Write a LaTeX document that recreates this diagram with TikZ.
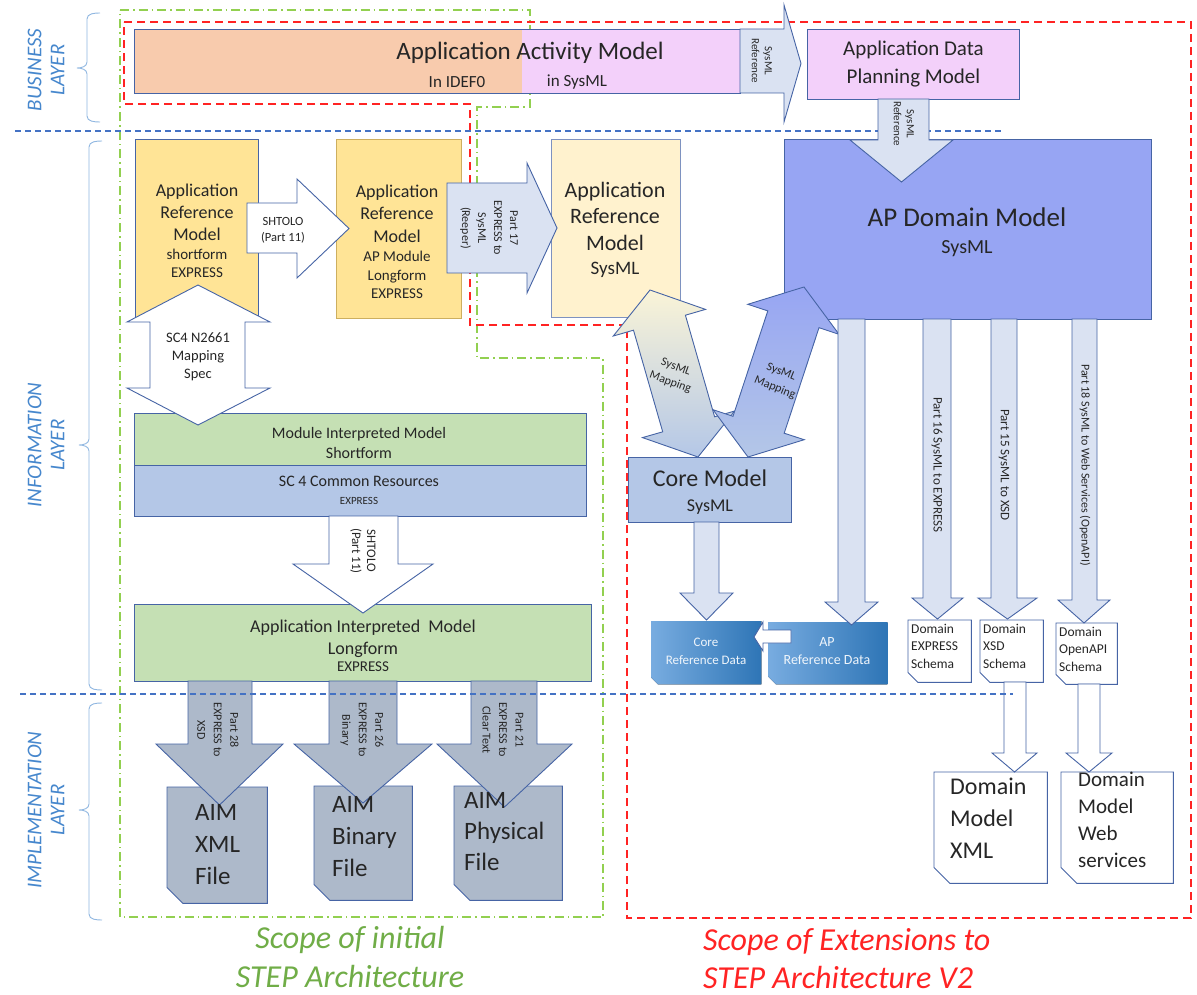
\documentclass[tikz,border=0pt]{standalone}
\usepackage{fontspec}
\setmainfont{Carlito}
\usetikzlibrary{calc}
\definecolor{bord}{RGB}{70,100,165}
\definecolor{txt}{RGB}{38,38,38}
\definecolor{orangef}{RGB}{248,203,173}
\definecolor{pinkf}{RGB}{243,208,250}
\definecolor{goldf}{RGB}{255,228,150}
\definecolor{creamf}{RGB}{255,242,206}
\definecolor{arrf}{RGB}{218,226,242}
\definecolor{domf}{RGB}{151,165,243}
\definecolor{steelf}{RGB}{180,199,231}
\definecolor{greenf}{RGB}{197,224,180}
\definecolor{slatef}{RGB}{173,185,202}
\definecolor{refl}{RGB}{120,172,224}
\definecolor{refd}{RGB}{46,117,182}
\definecolor{layerc}{RGB}{70,135,205}
\definecolor{dashblue}{RGB}{68,114,196}
\definecolor{scopered}{RGB}{255,35,35}
\definecolor{scopegreen}{RGB}{146,208,80}
\definecolor{scopegreentext}{RGB}{112,173,71}
\definecolor{goldbord}{RGB}{205,175,95}
\definecolor{mapcream}{RGB}{250,244,215}

\newcommand{\fsz}[2]{\fontsize{#1}{#2}\selectfont}
\newcommand{\dnarrow}[8][]{\draw[barrow,#1] (#2,#6) -- (#2,#7) -- (#4,#7) -- ({(#4+#5)/2},#8) -- (#5,#7) -- (#3,#7) -- (#3,#6) -- cycle;}
\newcommand{\rtarrow}[8][]{\draw[barrow,#1] (#2,#5) -- (#3,#5) -- (#3,#7) -- (#4,{(#7+#8)/2}) -- (#3,#8) -- (#3,#6) -- (#2,#6) -- cycle;}
\newcommand{\layerbrace}[4]{\draw[brace] (#1+13,#2) to[out=180,in=90] (#1,#2+6) -- (#1,#4-6) to[out=-90,in=0] (#1-10,#4) to[out=0,in=90] (#1,#4+6) -- (#1,#3-6) to[out=-90,in=180] (#1+13,#3);}

\begin{document}
\begin{tikzpicture}[x=1pt,y=-1pt,
  box/.style={draw=bord, line width=0.9pt, inner sep=0pt, align=center, text=txt, anchor=north west},
  barrow/.style={draw=bord, line width=0.9pt, fill=arrf, line join=miter},
  lbl/.style={text=txt, align=center, inner sep=0pt},
  brace/.style={draw=layerc!60, line width=0.9pt},
  layertext/.style={text=layerc, font=\itshape\fsz{21}{23}, align=center, rotate=90, inner sep=0pt},
  laydash/.style={draw=dashblue, line width=1.3pt, dash pattern=on 6pt off 4pt},
  filebox/.style={draw=bord, line width=0.9pt},
  ftext/.style={text=txt, align=left, anchor=north west, inner sep=0pt},
]
\useasboundingbox (0,0) rectangle (1197,995);
\fill[white] (0,0) rectangle (1197,995);

% scopes
\draw[scopegreen, line width=1.6pt, dash pattern=on 9pt off 4pt on 1.5pt off 4pt]
  (120,10) -- (530,10) -- (530,107) -- (477,107) -- (477,358) -- (603,358) -- (603,917) -- (120,917) -- cycle;
\draw[scopered, line width=1.8pt, dash pattern=on 8pt off 5pt]
  (124,22) -- (1191,22) -- (1191,918) -- (627,918) -- (627,325) -- (470,325) -- (470,104) -- (124,104) -- cycle;

\draw[laydash] (15,131) -- (1003,131);

% layer braces and labels
\layerbrace{87}{13}{122}{68}
\layerbrace{89}{141}{690}{445}
\layerbrace{89}{703}{920}{810}
\node[layertext] (lb) at (46,70) {BUSINESS\\LAYER};
\node[layertext] (li) at (46,445) {INFORMATION\\LAYER};
\node[layertext] (lm) at (46,810) {IMPLEMENTATION\\LAYER};

% business layer
\fill[orangef] (134,29) rectangle (522,93);
\fill[pinkf] (522,29) rectangle (740,93);
\node[box, minimum width=606, minimum height=64] (aam) at (134,29) {};
\node[lbl, font=\fsz{25}{28}] (aamt) at (530,53) {Application Activity Model};
\node[lbl, font=\fsz{17}{20}] (aami) at (457,82) {In IDEF0};
\node[lbl, font=\fsz{17}{20}] (aams) at (577,82) {in SysML};
\node[box, fill=pinkf, minimum width=212, minimum height=70, font=\fsz{21}{28}] (adpm) at (807,29) {Application Data\\Planning Model};

% AP domain model
\node[box, fill=domf, minimum width=367, minimum height=180] (apd) at (784,139) {};
\node[lbl, font=\fsz{27}{30}] (apdt) at (967,217) {AP Domain Model};
\node[lbl, font=\fsz{20}{22}] (apds) at (967,249) {SysML};

% ARM boxes
\node[box, fill=goldf, minimum width=123, minimum height=178] (arms) at (135,139) {};
\node[lbl, font=\fsz{18}{22}] (armst) at (197,231) {Application\\Reference\\Model\\[-3pt]{\fsz{15}{17}shortform}\\[-4pt]{\fsz{15}{17}EXPRESS}};
\node[box, draw=goldbord, fill=goldf, minimum width=125, minimum height=179] (armm) at (336,139) {};
\node[lbl, font=\fsz{18}{22.5}] (armmt) at (397,242) {Application\\Reference\\Model\\[-3pt]{\fsz{15}{17}AP Module}\\[-4pt]{\fsz{15}{17}Longform}\\[-4pt]{\fsz{15}{17}EXPRESS}};
\node[box, draw=bord!70, fill=creamf, minimum width=129, minimum height=178] (armsys) at (551,139) {};
\node[lbl, font=\fsz{22}{26.5}] (armsyst) at (615,230) {Application\\Reference\\Model\\[-2pt]{\fsz{19}{21}SysML}};

% interpreted models
\node[box, fill=greenf, minimum width=452, minimum height=52] (mim) at (134,413) {};
\node[lbl, font=\fsz{16}{20}] (mimt) at (359,443) {Module Interpreted Model\\Shortform};
\node[box, fill=steelf, minimum width=452, minimum height=51, line width=1.3pt] (sc4) at (134,465) {};
\node[lbl, font=\fsz{16}{18}] (sc4t) at (359,490) {SC 4 Common Resources\\{\fsz{11}{13}EXPRESS}};
\node[box, fill=greenf, minimum width=457, minimum height=77] (aim) at (134,604) {};
\node[lbl, font=\fsz{18}{22}] (aimt) at (363,646) {Application Interpreted~ Model\\Longform\\[-5pt]{\fsz{15}{17}EXPRESS}};

% core model
\node[box, fill=steelf, minimum width=163, minimum height=65] (core) at (628,457) {};
\node[lbl, font=\fsz{24}{28}] (coret) at (710,478) {Core Model};
\node[lbl, font=\fsz{18}{20}] (cores) at (710,507) {SysML};

% reference data
\node[minimum width=110, minimum height=63, inner sep=0pt, anchor=north west] (crd) at (651,621) {};
\fill[left color=refl, right color=refd] (crd.north west) -- (crd.north east) -- (crd.south east) -- ($(crd.south west)+(7,0)$) -- ($(crd.south west)+(0,-7)$) -- cycle;
\node[lbl, text=white!88!refl, font=\fsz{13}{18}] (crdt) at (706,651) {Core\\Reference Data};
\node[minimum width=119, minimum height=62, inner sep=0pt, anchor=north west] (ard) at (768,622) {};
\fill[left color=refl, right color=refd] (ard.north west) -- (ard.north east) -- (ard.south east) -- ($(ard.south west)+(8,0)$) -- ($(ard.south west)+(0,-8)$) -- cycle;
\node[lbl, text=white!88!refl, font=\fsz{14}{18}] (ardt) at (827,651) {AP\\Reference Data};

% schema boxes
\node[minimum width=63, minimum height=62, inner sep=0pt, anchor=north west] (dex) at (908,620) {};
\draw[filebox, fill=white] (dex.north west) -- (dex.north east) -- (dex.south east) -- ($(dex.south west)+(10,0)$) -- ($(dex.south west)+(0,-10)$) -- cycle;
\node[ftext, font=\fsz{13.5}{17.5}] (dext) at (911,624) {Domain\\EXPRESS\\Schema};
\node[minimum width=63, minimum height=62, inner sep=0pt, anchor=north west] (dxs) at (980,620) {};
\draw[filebox, fill=white] (dxs.north west) -- (dxs.north east) -- (dxs.south east) -- ($(dxs.south west)+(10,0)$) -- ($(dxs.south west)+(0,-10)$) -- cycle;
\node[ftext, font=\fsz{13.5}{17.5}] (dxst) at (983,624) {Domain\\XSD\\Schema};
\node[minimum width=61, minimum height=61, inner sep=0pt, anchor=north west] (doa) at (1056,623) {};
\draw[filebox, fill=white] (doa.north west) -- (doa.north east) -- (doa.south east) -- ($(doa.south west)+(10,0)$) -- ($(doa.south west)+(0,-10)$) -- cycle;
\node[ftext, font=\fsz{13.5}{17.5}] (doat) at (1059,627) {Domain\\OpenAPI\\Schema};

% domain model outputs
\node[minimum width=113, minimum height=111, inner sep=0pt, anchor=north west] (dmx) at (934,772) {};
\draw[filebox, fill=white] (dmx.north west) -- (dmx.north east) -- (dmx.south east) -- ($(dmx.south west)+(16,0)$) -- ($(dmx.south west)+(0,-16)$) -- cycle;
\node[ftext, font=\fsz{24}{32}] (dmxt) at (950,778) {Domain\\Model\\XML};
\node[minimum width=112, minimum height=111, inner sep=0pt, anchor=north west] (dmw) at (1061,772) {};
\draw[filebox, fill=white] (dmw.north west) -- (dmw.north east) -- (dmw.south east) -- ($(dmw.south west)+(16,0)$) -- ($(dmw.south west)+(0,-16)$) -- cycle;
\node[ftext, font=\fsz{21}{27}] (dmwt) at (1078,772) {Domain\\Model\\Web\\services};

% AIM files
\node[minimum width=100, minimum height=116, inner sep=0pt, anchor=north west] (fxml) at (167,787) {};
\draw[filebox, fill=slatef] (fxml.north west) -- (fxml.north east) -- (fxml.south east) -- ($(fxml.south west)+(16,0)$) -- ($(fxml.south west)+(0,-16)$) -- cycle;
\node[minimum width=98, minimum height=114, inner sep=0pt, anchor=north west] (fbin) at (314,786) {};
\draw[filebox, fill=slatef] (fbin.north west) -- (fbin.north east) -- (fbin.south east) -- ($(fbin.south west)+(16,0)$) -- ($(fbin.south west)+(0,-16)$) -- cycle;
\node[minimum width=108, minimum height=114, inner sep=0pt, anchor=north west] (fphy) at (454,786) {};
\draw[filebox, fill=slatef] (fphy.north west) -- (fphy.north east) -- (fphy.south east) -- ($(fphy.south west)+(16,0)$) -- ($(fphy.south west)+(0,-16)$) -- cycle;

% arrows
\rtarrow{740}{784}{801}{29}{93}{5}{122}
\dnarrow{878}{929}{850}{953}{99}{140}{182}
\rtarrow[fill=white]{247}{297}{349}{203}{253}{179}{278}
\rtarrow{447}{527}{557}{183}{273}{163}{293}
\draw[barrow, fill=white] (198,285) -- (270,322) -- (245,322) -- (245,388) -- (270,388) -- (198,425) -- (127,388) -- (150,388) -- (150,322) -- (127,322) -- cycle;
\dnarrow[fill=white]{329}{398}{293}{433}{516}{564}{613}
\draw[barrow, top color=mapcream, bottom color=steelf] (650,290) -- (705.5,309.4) -- (685.4,315.2) -- (714.6,416.8) -- (734.7,411.0) -- (698,457) -- (642.5,437.6) -- (662.7,431.8) -- (633.5,330.2) -- (613.3,336.0) -- cycle;
\draw[barrow, top color=domf, bottom color=steelf] (804,287) -- (839.0,334.3) -- (819.0,327.7) -- (784.2,433.2) -- (804.2,439.7) -- (748,457) -- (713.0,409.7) -- (733.0,416.3) -- (767.8,310.9) -- (747.8,304.3) -- cycle;
\dnarrow{694}{719}{680}{733}{522}{593}{620}
\dnarrow{838}{865}{825}{878}{319}{602}{625}
\dnarrow{923}{951}{912}{963}{319}{598}{619}
\dnarrow{991}{1017}{978}{1037}{319}{598}{619}
\dnarrow{1072}{1097}{1058}{1110}{319}{600}{623}
\draw[barrow, fill=white] (791,630) -- (763,630) -- (763,622) -- (754,637) -- (763,651) -- (763,643) -- (791,643) -- cycle;
\dnarrow[fill=white]{1004}{1026}{992}{1037}{682}{753}{772}
\dnarrow[fill=white]{1078}{1100}{1066}{1112}{684}{753}{772}
\dnarrow[fill=slatef]{188}{252}{156}{283}{681}{744}{805}
\dnarrow[fill=slatef]{329}{397}{294}{432}{681}{744}{803}
\dnarrow[fill=slatef]{471}{537}{437}{572}{681}{744}{807}

% arrow labels
\node[lbl, rotate=-90, font=\fsz{11}{13}] (sr1) at (762,61) {SysML\\Reference};
\node[lbl, rotate=-90, font=\fsz{11}{13}] (sr2) at (904,124) {SysML\\Reference};
\node[lbl, font=\fsz{12.5}{16}] (sht1) at (283,230) {SHTOLO\\(Part 11)};
\node[lbl, rotate=-90, font=\fsz{12}{16}] (p17) at (489,228) {Part 17\\EXPRESS to\\SysML\\(Reeper)};
\node[lbl, font=\fsz{14.5}{18}] (sc4m) at (198,357) {SC4 N2661\\Mapping\\Spec};
\node[lbl, rotate=-90, font=\fsz{13}{15}] (sht2) at (363,551) {SHTOLO\\(Part 11)};
\node[lbl, rotate=-20, font=\fsz{12}{16}] (map1) at (673,375) {SysML\\Mapping};
\node[lbl, rotate=-22, font=\fsz{12}{17}] (map2) at (778,380) {SysML\\Mapping};
\node[lbl, rotate=-90, font=\fsz{13}{15}] (p16) at (937,465) {Part 16 SysML to EXPRESS};
\node[lbl, rotate=-90, font=\fsz{13}{15}] (p15) at (1004,465) {Part 15 SysML to XSD};
\node[lbl, rotate=-90, font=\fsz{12}{15}] (p18) at (1085,465) {Part 18 SysML to Web Services (OpenAPI)};
\node[lbl, rotate=-90, font=\fsz{12}{16.5}] (p28) at (218,730) {Part 28\\EXPRESS to\\XSD};
\node[lbl, rotate=-90, font=\fsz{12}{16.5}] (p26) at (362,730) {Part 26\\EXPRESS to\\Binary};
\node[lbl, rotate=-90, font=\fsz{12}{16.5}] (p21) at (503,730) {Part 21\\EXPRESS to\\Clear Text};

% AIM file texts
\node[ftext, font=\fsz{25}{32}] (fxmlt) at (195,804) {AIM\\XML\\File};
\node[ftext, font=\fsz{25}{32}] (fbint) at (332,796) {AIM\\Binary\\File};
\node[ftext, font=\fsz{25}{31}] (fphyt) at (464,792) {AIM\\Physical\\File};

\draw[laydash] (20,694) -- (1013,694);

% scope texts
\node[text=scopegreentext, font=\itshape\fsz{32}{39}, align=center, inner sep=0pt] (sgi) at (350,957) {Scope of initial\\STEP Architecture};
\node[text=scopered, font=\itshape\fsz{32}{38}, align=left, anchor=west, inner sep=0pt] (sre) at (703,959) {Scope of Extensions to\\STEP Architecture V2};
\end{tikzpicture}
\end{document}
